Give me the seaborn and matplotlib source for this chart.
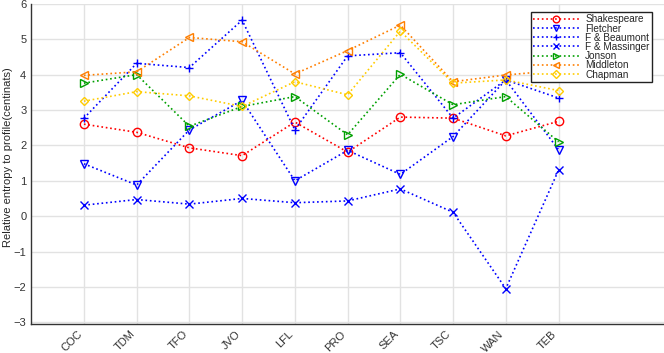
import pandas as pd
import matplotlib
matplotlib.use("Agg")
import matplotlib.pyplot as plt
import seaborn as sns

# plays on the x axis
plays = ['COC', 'TDM', 'TFO', 'JVO', 'LFL', 'PRO', 'SEA', 'TSC', 'WAN', 'TEB']

# relative entropy values
shakespeare = [2.60, 2.37, 1.93, 1.71, 2.66, 1.81, 2.80, 2.77, 2.27, 2.68]
fletcher = [1.48, 0.88, 2.44, 3.27, 1.00, 1.86, 1.18, 2.25, 3.85, 1.88]
f_beaumont = [2.77, 4.32, 4.20, 5.54, 2.44, 4.53, 4.62, 2.77, 3.85, 3.34]
f_massinger = [0.31, 0.47, 0.34, 0.50, 0.38, 0.43, 0.77, 0.11, -2.05, 1.30]
jonson = [3.76, 4.00, 2.54, 3.10, 3.38, 2.30, 4.01, 3.15, 3.38, 2.10]
middleton = [3.98, 4.08, 5.05, 4.93, 4.02, 4.68, 5.40, 3.80, 3.99, 4.12]
chapman = [3.25, 3.52, 3.40, 3.10, 3.80, 3.43, 5.23, 3.76, 3.85, 3.55]

series = [
    ('Shakespeare', shakespeare, '#ff0000', 'o'),
    ('Fletcher', fletcher, '#0000ff', 'v'),
    ('F & Beaumont', f_beaumont, '#0000ff', '+'),
    ('F & Massinger', f_massinger, '#0000ff', 'x'),
    ('Jonson', jonson, '#00a000', '>'),
    ('Middleton', middleton, '#ff7f00', '<'),
    ('Chapman', chapman, '#ffcc00', 'D'),
]

sns.set_style("whitegrid")
plt.rcParams['font.family'] = ['Liberation Sans', 'DejaVu Sans']

fig = plt.figure(figsize=(6.64, 3.53), dpi=100)
ax = fig.add_axes([0.047, 0.082, 0.953, 0.907])

xpos = list(range(1, len(plays) + 1))
for name, vals, col, mk in series:
    df = pd.DataFrame({'x': xpos, 'y': vals})
    ms = 4.5 if mk == 'D' else 6
    sns.lineplot(data=df, x='x', y='y', ax=ax, color=col, linestyle=':',
                 linewidth=1.2, marker=mk, markersize=ms,
                 markerfacecolor='none', markeredgecolor=col,
                 markeredgewidth=1.0, label=name, sort=False)

ax.set_xlim(0, 12)
ax.set_ylim(-3.05, 6)
ax.set_xticks(xpos)
ax.set_xticklabels(plays, rotation=45, ha='right', fontsize=8, color='#333333')
ax.set_yticks(range(-3, 7))
ax.tick_params(axis='y', labelsize=8, colors='#333333')
ax.tick_params(direction='in', length=4, width=1, color='#333333')
ax.set_xlabel('')
ax.set_ylabel('Relative entropy to profile(centinats)', fontsize=8)
ax.yaxis.set_label_coords(-0.029, 0.52)
ax.grid(True, color='#e2e2e2', linewidth=1)
for s in ['top', 'right']:
    ax.spines[s].set_visible(False)
for s in ['left', 'bottom']:
    ax.spines[s].set_color('#333333')
    ax.spines[s].set_linewidth(1)

leg = ax.legend(loc='upper right', bbox_to_anchor=(0.981, 0.975), fontsize=7.2,
                frameon=True, fancybox=False, handlelength=4.6,
                borderpad=0.25, labelspacing=-0.08, handletextpad=0.6,
                borderaxespad=0, markerscale=0.8)
leg.get_frame().set_edgecolor('#222222')
leg.get_frame().set_linewidth(1)
leg.get_frame().set_alpha(1)

fig.savefig('out.png', dpi=100)
